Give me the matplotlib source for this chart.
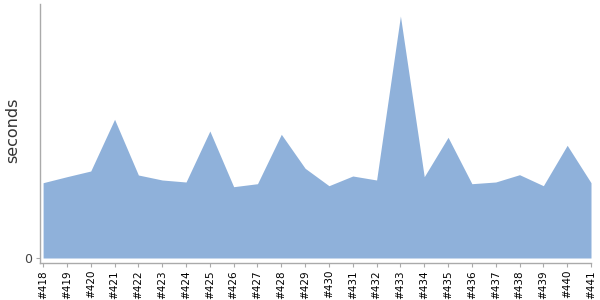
import numpy as np
import matplotlib
matplotlib.use("Agg")
import matplotlib.pyplot as plt

# ── data (build durations, seconds) ─────────────────────────
builds = ["#418", "#419", "#420", "#421", "#422", "#423", "#424", "#425",
          "#426", "#427", "#428", "#429", "#430", "#431", "#432", "#433",
          "#434", "#435", "#436", "#437", "#438", "#439", "#440", "#441"]

durations = [7.53, 8.13, 8.70, 13.87, 8.30, 7.80, 7.60, 12.70,
             7.13, 7.43, 12.37, 8.97, 7.23, 8.20, 7.80, 24.20,
             8.13, 12.07, 7.43, 7.60, 8.33, 7.23, 11.27, 7.53]

# ── plot ────────────────────────────────────────────────────
fig = plt.figure(figsize=(6, 3), dpi=100)
ax = fig.add_axes([40 / 600, 37 / 300, 551 / 600, 259 / 300])

x = np.arange(len(builds))
ax.fill_between(x, 0, durations, color="#8FB1DA", linewidth=0)

ax.set_xlim(-0.13, len(builds) - 1)
ax.set_ylim(-0.5, 25.4)

ax.set_xticks(x)
ax.set_xticklabels(builds, rotation=90, fontsize=7.5, color="black")
ax.set_yticks([0])
ax.set_yticklabels(["0"], fontsize=9, color="#444444")

# y label placed in figure pixels
fig.text(13 / 600, 1 - 130 / 300, "seconds", rotation=90, fontsize=11.5,
         color="#333333", ha="center", va="center")

for side in ["top", "right"]:
    ax.spines[side].set_visible(False)
for side in ["left", "bottom"]:
    ax.spines[side].set_color("#aaaaaa")
    ax.spines[side].set_linewidth(1)

ax.tick_params(axis="x", length=3, color="#aaaaaa", pad=2)
ax.tick_params(axis="y", length=3, color="#aaaaaa", pad=3)

fig.savefig("out.png", dpi=100)
